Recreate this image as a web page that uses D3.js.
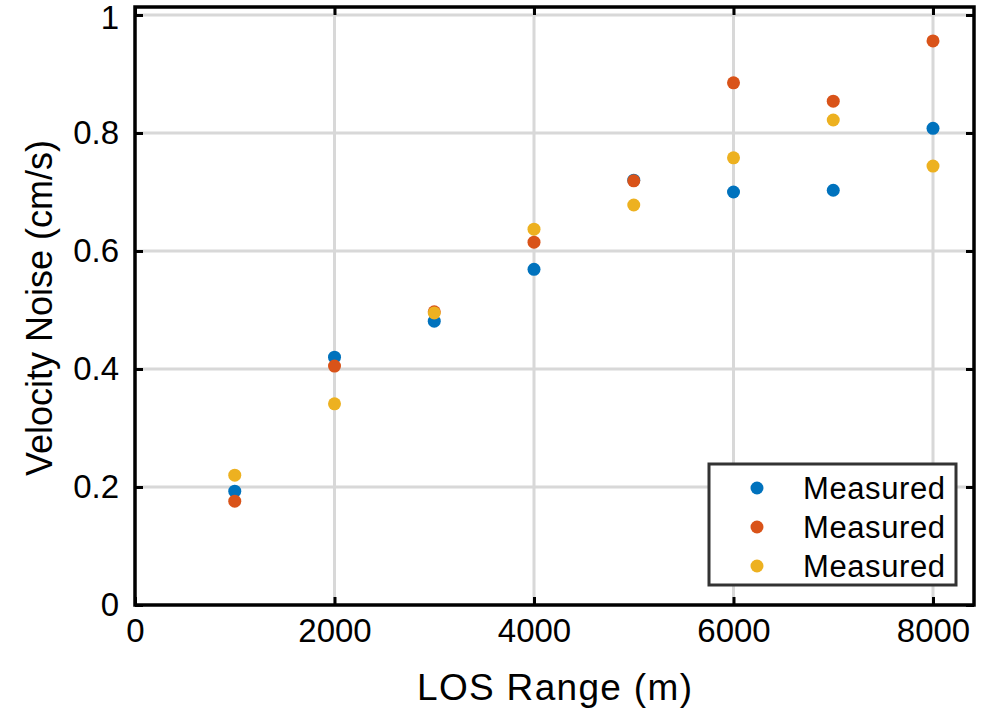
<!DOCTYPE html>
<html><head><meta charset="utf-8">
<script src="https://cdn.jsdelivr.net/npm/d3@7"></script>
<style>body{margin:0;background:#fff}svg{display:block}text{font-family:"Liberation Sans",Arial,sans-serif;fill:#000}</style>
</head><body><svg id="c" width="984" height="711"></svg>
<script>
const ranges = [1000,2000,3000,4000,5000,6000,7000,8000];
const blueVals   = [0.193,0.420,0.481,0.569,0.720,0.700,0.703,0.808];
const redVals    = [0.176,0.405,0.497,0.615,0.719,0.885,0.854,0.956];
const yellowVals = [0.220,0.341,0.495,0.637,0.678,0.758,0.822,0.744];
const seriesNames = ["Measured","Measured","Measured"];
const colors = ["#0072BD","#D95319","#EDB120"];
const xTicks = [0,2000,4000,6000,8000];
const yTicks = [0,0.2,0.4,0.6,0.8,1];
const xLabel = "LOS Range (m)";
const yLabel = "Velocity Noise (cm/s)";

const svg = d3.select("#c");
const L=135,R=974,T=7,B=605;
const x = d3.scaleLinear().domain([0,8411]).range([L,R]);
const y = d3.scaleLinear().domain([0,1]).range([B,15]);

// grid
const g = svg.append("g");
g.selectAll(".gx").data(xTicks.filter(d=>d>0)).enter().append("line")
 .attr("x1",d=>x(d)).attr("x2",d=>x(d)).attr("y1",T).attr("y2",B)
 .attr("stroke","#d8d8d8").attr("stroke-width",3);
g.selectAll(".gy").data(yTicks.filter(d=>d>0)).enter().append("line")
 .attr("y1",d=>y(d)).attr("y2",d=>y(d)).attr("x1",L).attr("x2",R)
 .attr("stroke","#d8d8d8").attr("stroke-width",3);

// axes
const fmtY = d => d===0?"0":(d===1?"1":d3.format(".1f")(d));
const ax = svg.append("g").attr("transform",`translate(0,${B})`)
 .call(d3.axisBottom(x).tickValues(xTicks).tickSize(-8).tickPadding(14).tickFormat(d3.format("d")));
const ay = svg.append("g").attr("transform",`translate(${L},0)`)
 .call(d3.axisLeft(y).tickValues(yTicks).tickSize(-8).tickPadding(16).tickFormat(fmtY));
const axT = svg.append("g").attr("transform",`translate(0,${T})`)
 .call(d3.axisTop(x).tickValues(xTicks).tickSize(-8).tickFormat(""));
const ayR = svg.append("g").attr("transform",`translate(${R},0)`)
 .call(d3.axisRight(y).tickValues(yTicks).tickSize(-8).tickFormat(""));
[ax,ay,axT,ayR].forEach(a=>{
  a.select(".domain").remove();
  a.selectAll(".tick line").attr("stroke","#000").attr("stroke-width",3);
  a.selectAll(".tick text").style("font-size","33px").attr("font-family",null);
});
ax.selectAll(".tick text").attr("dy","0.71em");
ay.selectAll(".tick text").filter(d=>d===1).attr("dy","0.42em");
// box
svg.append("rect").attr("x",L).attr("y",T).attr("width",R-L).attr("height",B-T)
 .attr("fill","none").attr("stroke","#000").attr("stroke-width",3.5);

// data
const series=[blueVals,redVals,yellowVals];
series.forEach((vals,i)=>{
  svg.append("g").selectAll("circle").data(vals).enter().append("circle")
   .attr("cx",(d,j)=>x(ranges[j])).attr("cy",d=>y(d)).attr("r",6.5).attr("fill",colors[i]);
});

// labels
svg.append("text").attr("x",(L+R)/2).attr("y",700).attr("text-anchor","middle")
 .style("font-size","37px").attr("textLength",275).text(xLabel);
svg.append("text").attr("transform",`translate(52,308) rotate(-90)`).attr("text-anchor","middle")
 .style("font-size","36px").text(yLabel);

// legend
const lg = svg.append("g");
lg.append("rect").attr("x",709).attr("y",464).attr("width",247).attr("height",121)
 .attr("fill","#fff").attr("stroke","#333").attr("stroke-width",3);
seriesNames.forEach((n,i)=>{
  const yy = 488 + i*39;
  lg.append("circle").attr("cx",757).attr("cy",yy).attr("r",6.5).attr("fill",colors[i]);
  lg.append("text").attr("x",803).attr("y",yy).attr("dy","0.36em").style("font-size","31px")
   .attr("textLength",142).text(n);
});
</script></body></html>
